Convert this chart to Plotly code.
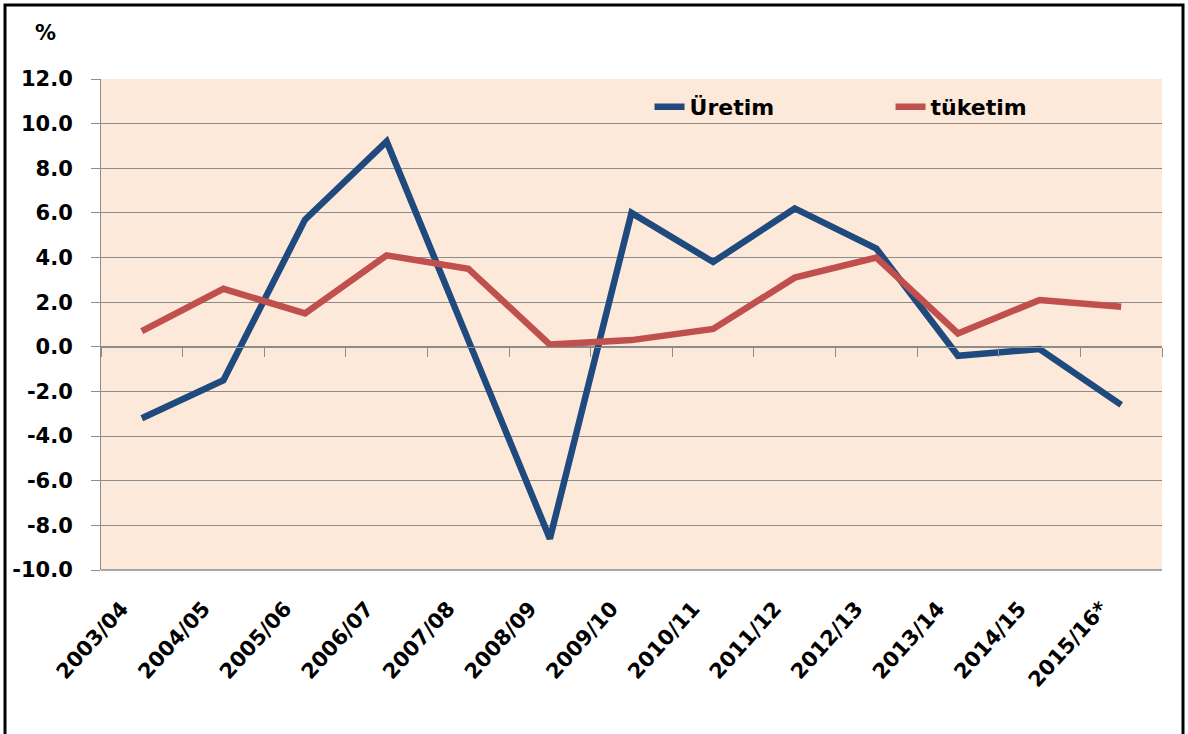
import plotly.graph_objects as go

categories = ["2003/04", "2004/05", "2005/06", "2006/07", "2007/08", "2008/09", "2009/10",
              "2010/11", "2011/12", "2012/13", "2013/14", "2014/15", "2015/16*"]
uretim = [-3.2, -1.5, 5.7, 9.2, 0.3, -8.6, 6.0, 3.8, 6.2, 4.4, -0.4, -0.1, -2.6]
tuketim = [0.7, 2.6, 1.5, 4.1, 3.5, 0.1, 0.3, 0.8, 3.1, 4.0, 0.6, 2.1, 1.8]
y_ticks = [12, 10, 8, 6, 4, 2, 0, -2, -4, -6, -8, -10]

FONT = "DejaVu Sans"
GRID = "#8c8c8c"
BLUE = "#1f4a7e"
RED = "#c0504d"

fig = go.Figure()
fig.add_trace(go.Scatter(x=categories, y=uretim, mode="lines", name="Üretim",
                         line=dict(color=BLUE, width=6.5)))
fig.add_trace(go.Scatter(x=categories, y=tuketim, mode="lines", name="tüketim",
                         line=dict(color=RED, width=6.5)))
# helper trace for the crossing axis at zero
n = len(categories)
fig.add_trace(go.Scatter(x=[], y=[], xaxis="x2", yaxis="y", showlegend=False, hoverinfo="skip"))

fig.update_layout(
    width=1188, height=734,
    margin=dict(l=101, r=26, t=79, b=164, autoexpand=False),
    paper_bgcolor="white",
    plot_bgcolor="#fde9d9",
    font=dict(family=FONT, color="black"),
    showlegend=True,
    legend=dict(orientation="h", x=0.517, y=0.943, xanchor="left", yanchor="middle",
                bgcolor="rgba(0,0,0,0)", entrywidth=196, entrywidthmode="pixels",
                font=dict(family=FONT, size=22, color="black", weight="bold"),
                itemwidth=30, tracegroupgap=0),
    xaxis=dict(type="category", range=[-0.5, n - 0.5], showgrid=False, zeroline=False,
               showline=False, ticks="", tickangle=-48, automargin=False,
               ticklabelstandoff=21, ticklabelshift=-20,
               tickfont=dict(family=FONT, size=21, color="black", weight="bold")),
    xaxis2=dict(overlaying="x", anchor="free", position=10 / 22, range=[-0.5, n - 0.5],
                tickvals=[i - 0.5 for i in range(n + 1)], ticks="outside", ticklen=9,
                tickcolor=GRID, tickwidth=1, showticklabels=False, showgrid=False,
                zeroline=False, showline=True, linecolor=GRID, linewidth=1),
    yaxis=dict(range=[-10, 12], tickvals=y_ticks, ticktext=[f"{v:.1f}" for v in y_ticks],
               showgrid=True, gridcolor=GRID, gridwidth=1, zeroline=False, automargin=False,
               showline=True, linecolor=GRID, linewidth=1, ticks="outside", ticklen=9,
               ticklabelstandoff=14,
               tickcolor=GRID, tickfont=dict(family=FONT, size=21, color="black", weight="bold")),
    shapes=[dict(type="rect", xref="paper", yref="paper", x0=0, x1=1, y0=0, y1=0,
                 line=dict(color=GRID, width=1.5)),
            dict(type="rect", xref="paper", yref="paper",
                 x0=-96 / 1061, x1=1 + 21 / 1061, y0=-175 / 491, y1=1 + 74 / 491,
                 line=dict(color="black", width=3), layer="above")],
    annotations=[dict(text="%", xref="paper", yref="paper", x=-56 / 1061, y=1 + 46 / 491,
                      showarrow=False, xanchor="center", yanchor="middle",
                      font=dict(family=FONT, size=21, color="black", weight="bold"))],
)

fig.write_html("out.html", config={"displayModeBar": False},
               post_script="document.body.style.margin='0';document.body.style.overflow='hidden';")
